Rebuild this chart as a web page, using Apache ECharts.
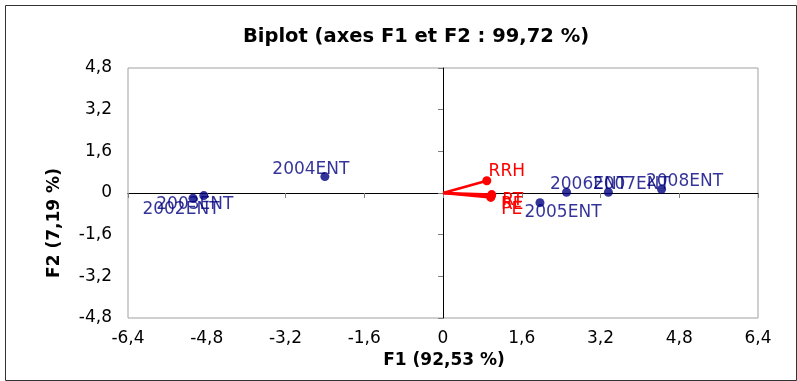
<!DOCTYPE html>
<html>
<head>
<meta charset="utf-8">
<script src="https://cdn.jsdelivr.net/npm/echarts@6/dist/echarts.min.js"></script>
<style>
  html, body { margin: 0; padding: 0; background: #fff; }
  #chart { width: 797px; height: 381px; }
</style>
</head>
<body>
<div id="chart"></div>
<script>
// observations (biplot F1/F2)
const obsNames = ['2002ENT', '2003ENT', '2004ENT', '2005ENT', '2006ENT', '2007ENT', '2008ENT'];
const obsF1 = [-5.08, -4.86, -2.40, 1.97, 2.51, 3.36, 4.44];
const obsF2 = [-0.20, -0.10, 0.63, -0.37, 0.03, 0.03, 0.14];

// variables (vectors from origin)
const varNames = ['RRH', 'RT', 'RE', 'PE'];
const varF1 = [0.89, 0.99, 0.98, 0.97];
const varF2 = [0.47, -0.06, -0.12, -0.17];

const xTicks = [-6.4, -4.8, -3.2, -1.6, 0, 1.6, 3.2, 4.8, 6.4];
const yTicks = [-4.8, -3.2, -1.6, 0, 1.6, 3.2, 4.8];

// label offsets (px) around the marks, roughly like the original
const obsLabelOffset = [[-12, 11], [-9, 9], [-14, -7], [23, 10], [22, -8], [23, -8], [23, -8]];
const varLabelOffset = [[20, -9], [21, 6], [21, 8], [21, 12]];

const font = 'DejaVu Sans';
const fmt = v => String(Math.round(v * 10) / 10).replace('.', ',');

const chart = echarts.init(document.getElementById('chart'));

const xBase = {
  type: 'value', min: xTicks[0], max: xTicks[xTicks.length - 1], interval: 1.6,
  splitLine: { show: false }
};
const yBase = {
  type: 'value', min: yTicks[0], max: yTicks[yTicks.length - 1], interval: 1.6,
  splitLine: { show: false }
};

const series = [];

// vectors
varNames.forEach((name, i) => {
  series.push({
    name: name,
    type: 'line',
    xAxisIndex: 0, yAxisIndex: 0,
    symbol: 'circle',
    symbolSize: 9,
    lineStyle: { color: '#ff0000', width: 2.5 },
    itemStyle: { color: '#ff0000' },
    z: 4,
    data: [
      { value: [0, 0], symbol: 'none', label: { show: false } },
      {
        value: [varF1[i], varF2[i]],
        label: {
          show: true, position: 'inside', offset: varLabelOffset[i],
          formatter: name, color: '#ff0000', fontFamily: font, fontSize: 17,
          textBorderWidth: 0
        }
      }
    ]
  });
});

// observations
series.push({
  name: 'obs',
  type: 'scatter',
  xAxisIndex: 0, yAxisIndex: 0,
  symbol: 'circle',
  symbolSize: 9,
  itemStyle: { color: '#000080' },
  z: 5,
  data: obsNames.map((n, i) => ({
    value: [obsF1[i], obsF2[i]],
    label: {
      show: true, position: 'inside', offset: obsLabelOffset[i],
      formatter: n, color: '#000080', fontFamily: font, fontSize: 17,
      textBorderWidth: 0
    }
  }))
});

const option = {
  animation: false,
  backgroundColor: '#fff',
  grid: {
    left: 128, right: 39, top: 68, bottom: 63,
    show: true, borderColor: '#a0a0a0', borderWidth: 1, backgroundColor: '#fff'
  },
  xAxis: [
    Object.assign({}, xBase, {
      position: 'bottom',
      axisLine: { show: false, onZero: false },
      axisTick: { show: false },
      axisLabel: { formatter: fmt, color: '#000', fontFamily: font, fontSize: 17, margin: 12 }
    }),
    Object.assign({}, xBase, {
      position: 'top',
      axisLine: { show: true, onZero: true, lineStyle: { color: '#000', width: 1 } },
      axisTick: { show: true, inside: true, length: 5, lineStyle: { color: '#808080' } },
      axisLabel: { show: false }
    })
  ],
  yAxis: [
    Object.assign({}, yBase, {
      position: 'left',
      axisLine: { show: false, onZero: false },
      axisTick: { show: false },
      axisLabel: { formatter: fmt, color: '#000', fontFamily: font, fontSize: 17, margin: 16 }
    }),
    Object.assign({}, yBase, {
      position: 'right',
      axisLine: { show: true, onZero: true, lineStyle: { color: '#000', width: 1 } },
      axisTick: { show: true, inside: true, length: 5, lineStyle: { color: '#808080' } },
      axisLabel: { show: false }
    })
  ],
  graphic: [
    {
      type: 'rect', left: 3, top: 3, z: -10, silent: true,
      shape: { x: 0, y: 0, width: 791, height: 375 },
      style: { fill: 'none', stroke: '#333', lineWidth: 1 }
    },
    {
      type: 'text', x: 416, y: 37, z: 10,
      style: {
        text: 'Biplot (axes F1 et F2 : 99,72 %)', fill: '#000',
        font: 'bold 19.5px "DejaVu Sans"', align: 'center', verticalAlign: 'middle'
      }
    },
    {
      type: 'text', x: 444, y: 361, z: 10,
      style: {
        text: 'F1 (92,53 %)', fill: '#000',
        font: 'bold 17px "DejaVu Sans"', align: 'center', verticalAlign: 'middle'
      }
    },
    {
      type: 'text', x: 55, y: 223, rotation: Math.PI / 2, z: 10,
      style: {
        text: 'F2 (7,19 %)', fill: '#000',
        font: 'bold 17px "DejaVu Sans"', align: 'center', verticalAlign: 'middle'
      }
    }
  ],
  series: series
};

chart.setOption(option);
</script>
</body>
</html>
